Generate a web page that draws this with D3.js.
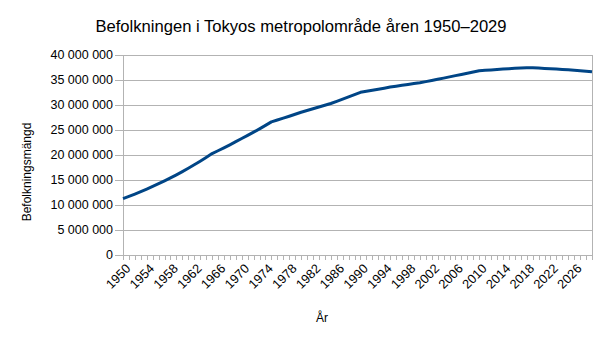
<!DOCTYPE html>
<html>
<head>
<meta charset="utf-8">
<script src="https://d3js.org/d3.v7.min.js"></script>
<style>
  html, body { margin: 0; padding: 0; background: #fff; }
  svg { display: block; font-family: "Liberation Sans", Arial, sans-serif; }
</style>
</head>
<body>
<script>
// Tokyo metropolitan area population, 1950–2029
const years = d3.range(1950, 2030);
const population = [
  11270000, 11720000, 12190000, 12680000, 13180000, 13710000, 14260000, 14830000, 15420000, 16040000,
  16680000, 17350000, 18040000, 18760000, 19510000, 20280000, 20850000, 21440000, 22040000, 22660000,
  23300000, 23930000, 24570000, 25230000, 25920000, 26620000, 26990000, 27370000, 27760000, 28150000,
  28550000, 28890000, 29240000, 29590000, 29940000, 30300000, 30740000, 31170000, 31620000, 32070000,
  32530000, 32740000, 32950000, 33160000, 33370000, 33590000, 33760000, 33930000, 34100000, 34280000,
  34450000, 34680000, 34910000, 35150000, 35380000, 35620000, 35870000, 36110000, 36360000, 36610000,
  36860000, 36940000, 37020000, 37100000, 37180000, 37260000, 37330000, 37400000, 37470000, 37440000,
  37390000, 37320000, 37270000, 37190000, 37120000, 37040000, 36940000, 36850000, 36760000, 36670000
];
const yTicks = [0, 5000000, 10000000, 15000000, 20000000, 25000000, 30000000, 35000000, 40000000];
const xLabelYears = years.filter(y => (y - 1950) % 4 === 0);

const W = 605, H = 340;
const plot = { left: 123, right: 592, top: 55, bottom: 255 };

const svg = d3.select("body").append("svg").attr("width", W).attr("height", H);

const x = d3.scalePoint().domain(years).range([plot.left, plot.right]);
const y = d3.scaleLinear().domain([0, 40000000]).range([plot.bottom, plot.top]);

const fmt = v => d3.format(",")(v).replace(/,/g, " ");
const gridColor = "#b3b3b3";

// horizontal gridlines
svg.append("g").selectAll("line").data(yTicks).join("line")
  .attr("x1", plot.left - 8).attr("x2", plot.right)
  .attr("y1", d => Math.round(y(d)) + 0.5).attr("y2", d => Math.round(y(d)) + 0.5)
  .attr("stroke", gridColor).attr("stroke-width", 1);

// y axis line and right border
svg.append("line")
  .attr("x1", plot.left + 0.5).attr("x2", plot.left + 0.5)
  .attr("y1", plot.top).attr("y2", plot.bottom + 5)
  .attr("stroke", gridColor);
svg.append("line")
  .attr("x1", plot.right + 0.5).attr("x2", plot.right + 0.5)
  .attr("y1", plot.top).attr("y2", plot.bottom + 5)
  .attr("stroke", gridColor);

// x axis ticks, one per year
svg.append("g").selectAll("line").data(years).join("line")
  .attr("x1", d => Math.round(x(d)) + 0.5).attr("x2", d => Math.round(x(d)) + 0.5)
  .attr("y1", plot.bottom).attr("y2", plot.bottom + 5)
  .attr("stroke", gridColor);

// y tick labels
svg.append("g").selectAll("text").data(yTicks).join("text")
  .attr("x", plot.left - 10).attr("y", d => y(d))
  .attr("dy", "0.35em")
  .attr("text-anchor", "end")
  .attr("font-size", 12.5)
  .attr("fill", "#000")
  .text(fmt);

// x tick labels, every fourth year, rotated
svg.append("g").selectAll("text").data(xLabelYears).join("text")
  .attr("transform", d => `translate(${x(d) + 2},${plot.bottom + 8}) rotate(-45)`)
  .attr("text-anchor", "end")
  .attr("dy", "0.7em")
  .attr("font-size", 12.8)
  .attr("fill", "#000")
  .text(d => d);

// population line
const line = d3.line()
  .x((d, i) => x(years[i]))
  .y(d => y(d));
svg.append("path")
  .datum(population)
  .attr("d", line)
  .attr("fill", "none")
  .attr("stroke", "#004586")
  .attr("stroke-width", 3)
  .attr("stroke-linejoin", "round");

// titles
svg.append("text")
  .attr("x", 301).attr("y", 32)
  .attr("text-anchor", "middle")
  .attr("font-size", 16.6)
  .text("Befolkningen i Tokyos metropolområde åren 1950–2029");

svg.append("text")
  .attr("x", 322).attr("y", 322)
  .attr("text-anchor", "middle")
  .attr("font-size", 12)
  .text("År");

svg.append("text")
  .attr("transform", "translate(31,172) rotate(-90)")
  .attr("text-anchor", "middle")
  .attr("font-size", 12)
  .text("Befolkningsmängd");
</script>
</body>
</html>
